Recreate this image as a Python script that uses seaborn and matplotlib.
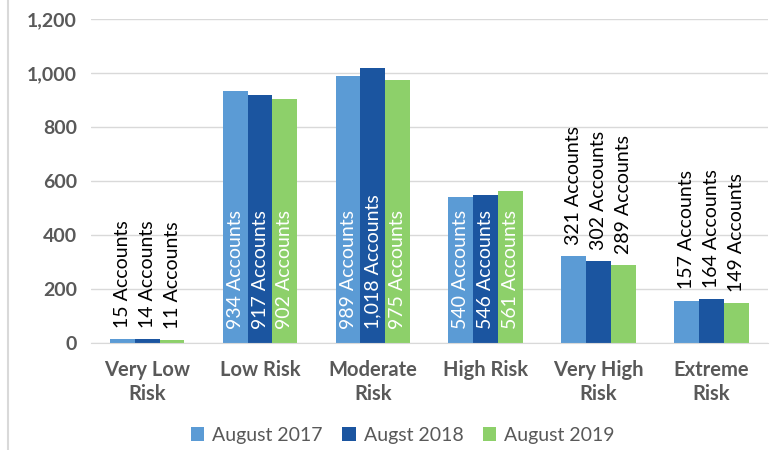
import pandas as pd
import seaborn as sns
import matplotlib.pyplot as plt
from matplotlib.lines import Line2D

categories = ['Very Low\nRisk', 'Low Risk', 'Moderate\nRisk', 'High Risk', 'Very High\nRisk', 'Extreme\nRisk']
series = ['August 2017', 'Augst 2018', 'August 2019']
aug_2017 = [15, 934, 989, 540, 321, 157]
aug_2018 = [14, 917, 1018, 546, 302, 164]
aug_2019 = [11, 902, 975, 561, 289, 149]
inside_cats = ['Low Risk', 'Moderate\nRisk', 'High Risk']

rows = []
for s, vals in zip(series, [aug_2017, aug_2018, aug_2019]):
    for c, v in zip(categories, vals):
        rows.append({'category': c, 'series': s, 'accounts': v})
df = pd.DataFrame(rows)

sns.set_style('white')
plt.rcParams['font.family'] = ['Lato', 'DejaVu Sans']

colors = ['#5B9BD5', '#1B55A0', '#8DD06A']

fig = plt.figure(figsize=(7.7, 4.5), dpi=100)
ax = fig.add_axes([0.118, 0.238, 0.879, 0.72])

sns.barplot(data=df, x='category', y='accounts', hue='series', order=categories,
            hue_order=series, palette=colors, width=0.66, saturation=1,
            linewidth=0, ax=ax)

ax.set_ylim(0, 1200)
ax.set_yticks(range(0, 1201, 200))
ax.set_yticklabels([f'{v:,}' for v in range(0, 1201, 200)])
ax.yaxis.grid(True, color='#d9d9d9', linewidth=1)
ax.set_axisbelow(True)
ax.set_xlabel('')
ax.set_ylabel('')
for side in ['left', 'right', 'top']:
    ax.spines[side].set_visible(False)
ax.spines['bottom'].set_color('#d9d9d9')
ax.tick_params(axis='both', length=0, labelsize=14, labelcolor='#595959', pad=10)
ax.tick_params(axis='x', labelsize=14.5, pad=12)
for lbl in ax.get_xticklabels() + ax.get_yticklabels():
    lbl.set_fontweight('bold')
for lbl in ax.get_xticklabels():
    lbl.set_linespacing(1.25)

for container, vals in zip(ax.containers, [aug_2017, aug_2018, aug_2019]):
    for bar, cat, v in zip(container, categories, vals):
        x = bar.get_x() + bar.get_width() / 2
        txt = f'{v:,} Accounts'
        if cat in inside_cats:
            ax.annotate(txt, (x, 0), xytext=(0, 10), textcoords='offset points',
                        rotation=90, ha='center', va='bottom', fontsize=14,
                        color='white')
        else:
            ax.annotate(txt, (x, v), xytext=(0, 8), textcoords='offset points',
                        rotation=90, ha='center', va='bottom', fontsize=14,
                        color='black')

handles, labels = ax.get_legend_handles_labels()
ax.legend_.remove()
fig.legend(handles, labels, loc='center', bbox_to_anchor=(0.523, 0.033), ncol=3,
           frameon=False, fontsize=14, handlelength=0.7, handleheight=0.7,
           handletextpad=0.4, columnspacing=1.0, labelcolor='#595959')

fig.add_artist(Line2D([0.011, 0.011], [0, 1], color='#d9d9d9', linewidth=1.5))

fig.savefig('out.png', dpi=100)
